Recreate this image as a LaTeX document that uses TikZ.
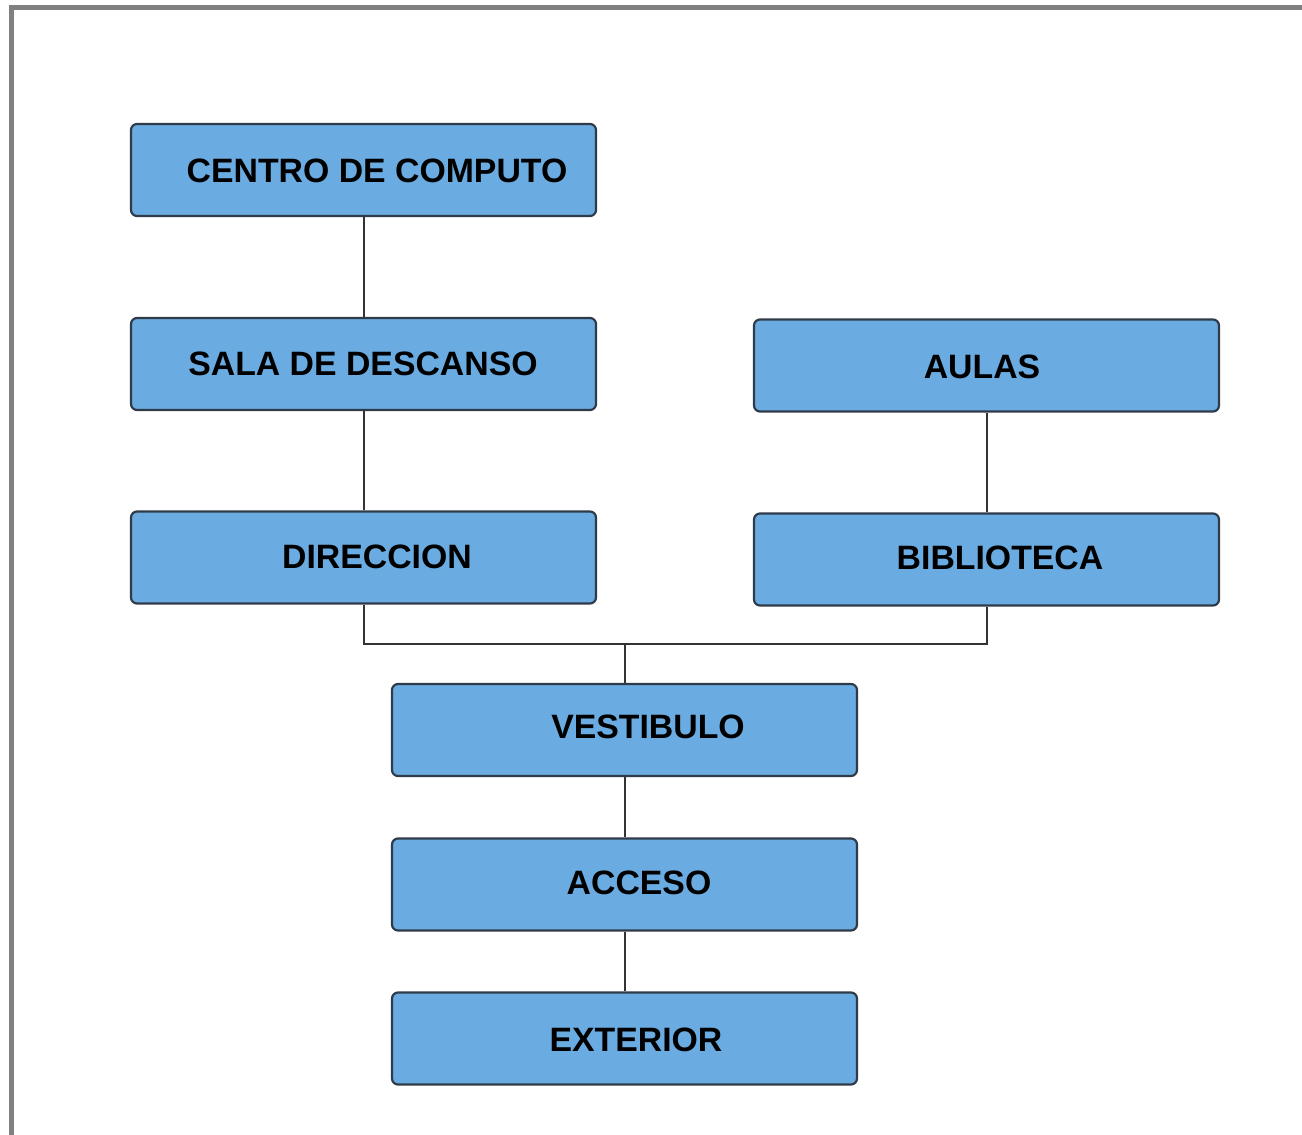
\documentclass[tikz,border=0pt]{standalone}
\usepackage{fontspec}
\setmainfont{Liberation Sans}
\usetikzlibrary{calc}
\definecolor{boxfill}{HTML}{6AABE1}
\definecolor{boxedge}{HTML}{2F3B48}
\definecolor{frame}{HTML}{808080}
\definecolor{wire}{HTML}{333333}
\tikzset{
  room/.style={draw=boxedge, line width=1.1pt, fill=boxfill, rounded corners=3pt,
    minimum width=232.5pt, minimum height=46pt, inner sep=0pt},
  lbl/.style={font=\bfseries\fontsize{16.9}{18}\selectfont, inner sep=0pt, text=black},
  link/.style={draw=wire, line width=1pt}
}
\begin{document}
\begin{tikzpicture}[x=0.5pt,y=-0.5pt]
\useasboundingbox (0,0) rectangle (1302,1135);
\draw[frame, line width=2.6pt] (11.5,1135) -- (11.5,7.5) -- (1302,7.5);
% boxes
\node[room] (cc) at (363.5,170) {};
\node[room] (sd) at (363.5,364) {};
\node[room] (di) at (363.5,557.5) {};
\node[room] (au) at (986.5,365.5) {};
\node[room] (bi) at (986.5,559.5) {};
\node[room] (ve) at (624.5,730) {};
\node[room] (ac) at (624.5,884.5) {};
\node[room] (ex) at (624.5,1038.5) {};
% labels
\node[lbl] (tcc) at (377,171) {CENTRO DE COMPUTO};
\node[lbl] (tsd) at (363,364) {SALA DE DESCANSO};
\node[lbl] (tdi) at (377,557) {DIRECCION};
\node[lbl] (tau) at (982,367) {AULAS};
\node[lbl] (tbi) at (1000,558) {BIBLIOTECA};
\node[lbl] (tve) at (648,727) {VESTIBULO};
\node[lbl] (tac) at (639,883) {ACCESO};
\node[lbl] (tex) at (636,1040) {EXTERIOR};
% connectors
\coordinate (j) at (624.5,644);
\draw[link] (cc.south) -- (sd.north);
\draw[link] (sd.south) -- (di.north);
\draw[link] (au.south) -- (bi.north);
\draw[link] (di.south) |- (j) -| (bi.south);
\draw[link] (j) -- (ve.north);
\draw[link] (ve.south) -- (ac.north);
\draw[link] (ac.south) -- (ex.north);
\end{tikzpicture}
\end{document}
